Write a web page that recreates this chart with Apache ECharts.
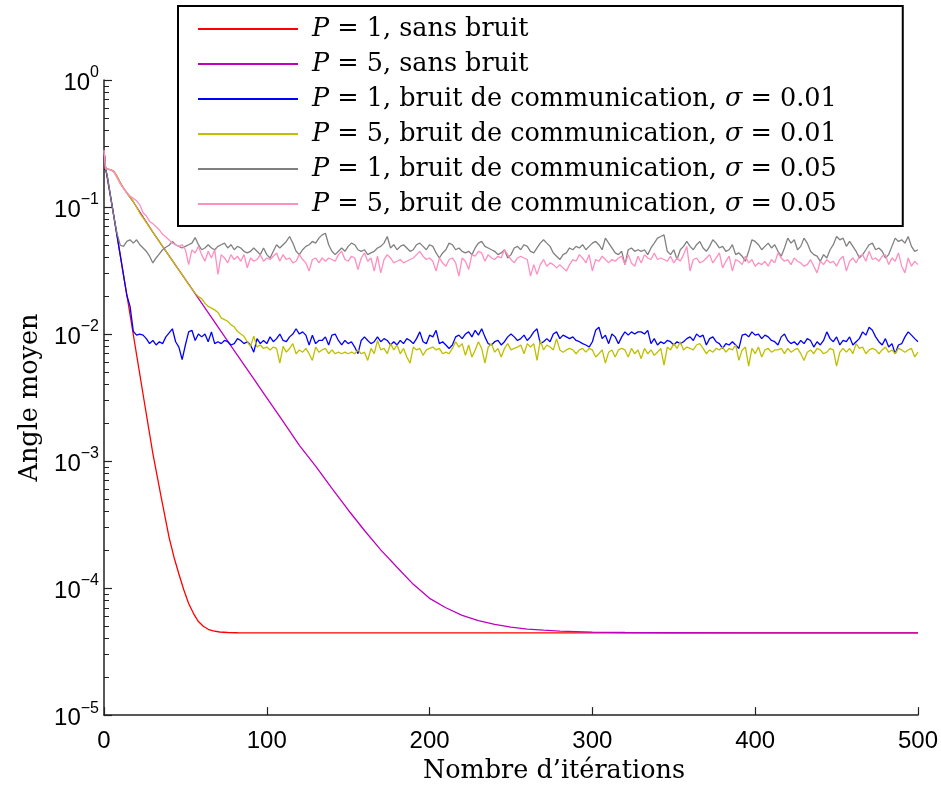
<!DOCTYPE html>
<html>
<head>
<meta charset="utf-8">
<script src="https://cdn.jsdelivr.net/npm/echarts@6/dist/echarts.min.js"></script>
<style>
html,body{margin:0;padding:0;background:#fff;}
#chart{width:941px;height:789px;}
</style>
</head>
<body>
<div id="chart"></div>
<script>
// ---------- DATA ----------
const seriesNames = [
  'P = 1, sans bruit',
  'P = 5, sans bruit',
  'P = 1, bruit de communication, σ = 0.01',
  'P = 5, bruit de communication, σ = 0.01',
  'P = 1, bruit de communication, σ = 0.05',
  'P = 5, bruit de communication, σ = 0.05'
];
const seriesColors = ['#ff0000', '#bf00bf', '#0000ff', '#bfbf00', '#808080', '#ff8fc0'];

const xTicks = [0, 100, 200, 300, 400, 500];
const yDecades = [1e-5, 1e-4, 1e-3, 1e-2, 1e-1, 1];
const yMinorTicks = [];
for (let e = -5; e <= -1; e++) for (let m = 2; m <= 9; m++) yMinorTicks.push(m * Math.pow(10, e));

// smooth curves (sampled iterations)
const redIter = [0,1,5,10,15,20,25,30,35,40,43,46,49,52,55,58,61,64,67,71,76,82,90,100,200,300,400,500];
const redVals = [0.28,0.20,0.102,0.0417,0.017,0.0069,0.0028,0.00115,0.00053,0.00025,
  0.000175,0.000129,0.000097,0.0000755,0.0000630,0.0000545,0.0000500,0.0000474,0.0000460,0.0000451,
  0.0000447,0.0000445,0.0000444,0.0000444,0.0000444,0.0000444,0.0000444,0.0000444];

const magIter = [0,1,4,6,8,10,12,14,16,18,20,30,40,50,60,70,80,90,100,110,120,130,140,150,160,170,180,190,200,210,220,230,240,250,260,270,280,300,320,350,400,450,500];
const magVals = [0.28,0.20,0.197,0.191,0.174,0.155,0.141,0.129,0.119,0.110,0.100,
  0.0634,0.0413,0.0269,0.0175,0.0114,0.00741,0.00483,0.00315,0.00205,0.00133,
  0.000913,0.000609,0.000412,0.000284,0.000200,0.000146,0.000107,0.000083,0.0000700,0.0000610,
  0.0000555,0.0000518,0.0000492,0.0000476,0.0000466,0.0000458,0.000045,0.0000447,0.0000445,0.0000444,0.0000444,0.0000444];

// noisy curves: iterations 0, 1, 2, 4, ..., 500
const noisyIter = [0, 1];
for (let i = 2; i <= 500; i += 2) noisyIter.push(i);

const blueVals = [
  0.28,0.20,0.175,0.122,0.0853,0.0596,0.0416,0.029,0.0203,0.0165,0.0105,0.0098,
  0.0100,0.0098,0.0092,0.0084,0.0089,0.0082,0.0087,0.0084,0.0095,0.0102,
  0.0110,0.0087,0.0079,0.0063,0.0082,0.0104,0.0107,0.0089,0.0100,0.0095,
  0.0100,0.0087,0.0104,0.0084,0.0087,0.0084,0.0089,0.0087,0.0082,0.0084,
  0.0092,0.0089,0.0084,0.0087,0.0082,0.0072,0.0092,0.0084,0.0089,0.0084,
  0.0095,0.0087,0.0092,0.0100,0.0089,0.0087,0.0095,0.0100,0.0110,0.0100,
  0.0104,0.0098,0.0082,0.0098,0.0084,0.0089,0.0089,0.0095,0.0082,0.0098,
  0.0100,0.0089,0.0082,0.0089,0.0084,0.0087,0.0079,0.0070,0.0089,0.0095,
  0.0089,0.0084,0.0087,
  0.0095,0.0087,0.0092,0.0089,0.0082,0.0087,0.0082,0.0089,0.0084,0.0092,
  0.0089,0.0084,0.0092,0.0104,0.0087,0.0084,0.0098,0.0095,0.0107,0.0084,
  0.0087,0.0082,0.0077,0.0082,0.0095,0.0098,0.0092,0.0100,0.0104,0.0095,
  0.0107,0.0098,0.0110,0.0095,0.0084,0.0082,0.0087,0.0089,0.0082,0.0087,
  0.0095,0.0100,0.0095,0.0089,0.0092,0.0098,0.0089,0.0095,0.0104,0.0110,
  0.0084,0.0087,0.0092,0.0087,0.0100,0.0104,0.0092,0.0098,0.0095,0.0092,
  0.0095,0.0089,0.0087,0.0084,0.0082,0.0079,0.0087,0.0107,0.0113,0.0092,
  0.0098,0.0084,0.0100,0.0095,0.0084,0.0095,0.0104,0.0098,0.0104,0.0100,
  0.0104,
  0.0104,0.0100,0.0107,0.0084,0.0092,0.0082,0.0087,0.0084,0.0089,0.0087,
  0.0082,0.0087,0.0084,0.0087,0.0092,0.0095,0.0089,0.0100,0.0095,0.0098,
  0.0082,0.0092,0.0095,0.0087,0.0084,0.0077,0.0084,0.0082,0.0087,0.0082,
  0.0077,0.0098,0.0100,0.0095,0.0104,0.0098,0.0100,0.0092,0.0098,0.0095,
  0.0089,0.0087,0.0082,0.0095,0.0100,0.0089,0.0084,0.0087,0.0082,0.0089,
  0.0084,0.0092,0.0089,0.0079,0.0087,0.0082,0.0089,0.0104,0.0092,0.0087,
  0.0095,0.0082,0.0089,0.0087,0.0095,0.0082,0.0087,0.0092,0.0104,0.0098,
  0.0113,0.0107,0.0095,0.0087,0.0082,0.0092,0.0079,0.0084,0.0070,0.0082,
  0.0084,0.0095,0.0104,0.0098,0.0092,0.0087
];

const yellowVals = [
  0.28,0.20,0.198,0.197,0.191,0.174,0.155,0.141,0.129,0.119,0.110,0.100,
  0.0893,0.0820,0.0753,0.0691,0.0634,0.0582,0.0534,0.0490,0.0450,0.0413,0.0379,0.0348,0.0319,0.0293,0.0269,
  0.0245,0.0228,0.0210,0.0197,0.0190,0.0175,0.0165,0.0160,0.0155,0.0148,
  0.0134,0.0130,0.0126,0.0118,0.0114,0.0105,0.0100,0.0096,0.0087,0.0080,
  0.0096,0.0079,0.0082,0.0077,0.0079,0.0075,0.0079,0.0077,0.0059,0.0080,
  0.0072,0.0077,0.0084,0.0070,0.0075,0.0072,0.0077,0.0070,0.0062,0.0079,
  0.0072,0.0075,0.0077,0.0070,0.0075,0.0070,0.0072,0.0070,0.0072,0.0070,
  0.0072,0.0070,0.0075,0.0070,0.0072,0.0062,0.0077,0.0070,
  0.0089,0.0075,0.0077,0.0070,0.0084,0.0075,0.0082,0.0070,0.0077,0.0066,
  0.0059,0.0079,0.0075,0.0077,0.0068,0.0075,0.0077,0.0079,0.0075,0.0077,
  0.0070,0.0072,0.0070,0.0077,0.0087,0.0079,0.0084,0.0068,0.0082,0.0066,
  0.0075,0.0087,0.0077,0.0059,0.0079,0.0084,0.0072,0.0077,0.0066,0.0077,
  0.0084,0.0075,0.0077,0.0079,0.0082,0.0070,0.0084,0.0079,0.0084,0.0062,
  0.0089,0.0075,0.0082,0.0079,0.0075,0.0092,0.0075,0.0072,0.0075,0.0077,
  0.0075,0.0070,0.0075,0.0077,0.0072,0.0077,0.0075,0.0066,0.0070,0.0075,
  0.0059,0.0072,0.0075,0.0066,0.0075,0.0077,0.0075,0.0066,0.0077,0.0070,
  0.0075,
  0.0064,0.0077,0.0070,0.0075,0.0068,0.0072,0.0077,0.0057,0.0079,0.0075,
  0.0084,0.0077,0.0087,0.0075,0.0079,0.0077,0.0075,0.0082,0.0084,0.0077,
  0.0070,0.0075,0.0072,0.0077,0.0075,0.0079,0.0072,0.0077,0.0075,0.0082,
  0.0062,0.0075,0.0079,0.0056,0.0077,0.0070,0.0079,0.0066,0.0075,0.0077,
  0.0072,0.0075,0.0075,0.0077,0.0070,0.0077,0.0072,0.0075,0.0077,0.0070,
  0.0062,0.0072,0.0075,0.0070,0.0077,0.0075,0.0070,0.0072,0.0077,0.0075,
  0.0056,0.0072,0.0077,0.0072,0.0077,0.0070,0.0084,0.0077,0.0079,0.0070,
  0.0075,0.0077,0.0075,0.0070,0.0075,0.0079,0.0072,0.0075,0.0070,0.0077,
  0.0075,0.0072,0.0075,0.0077,0.0066,0.0072
];

const grayVals = [
  0.28,0.20,0.175,0.122,0.0853,0.062,0.050,
  0.0490,0.0536,0.0552,0.0520,0.0552,0.0505,0.0476,0.0448,0.0410,0.0363,
  0.0397,0.0427,0.0461,0.0482,0.0500,0.0536,0.0505,0.0490,0.0476,0.0490,
  0.0505,0.0520,0.0575,0.0505,0.0461,0.0476,0.0505,0.0476,0.0461,0.0490,
  0.0505,0.0520,0.0476,0.0505,0.0461,0.0490,0.0476,0.0448,0.0435,0.0448,
  0.0476,0.0448,0.0422,0.0476,0.0422,0.0397,0.0448,0.0505,0.0476,0.0505,
  0.0536,0.0586,0.0520,0.0448,0.0422,0.0461,0.0490,0.0505,0.0536,0.0520,
  0.0569,0.0604,0.0622,0.0505,0.0448,0.0422,0.0448,0.0476,0.0448,0.0490,
  0.0520,0.0505,0.0461,0.0448,0.0461,0.0422,0.0435,0.0448,
  0.0476,0.0490,0.0520,0.0586,0.0476,0.0505,0.0461,0.0490,0.0505,0.0476,
  0.0448,0.0461,0.0505,0.0520,0.0490,0.0461,0.0505,0.0490,0.0435,0.0397,
  0.0435,0.0461,0.0520,0.0505,0.0461,0.0476,0.0448,0.0435,0.0448,0.0422,
  0.0476,0.0520,0.0536,0.0490,0.0476,0.0461,0.0448,0.0422,0.0435,0.0461,
  0.0397,0.0422,0.0476,0.0490,0.0461,0.0505,0.0490,0.0448,0.0435,0.0476,
  0.0520,0.0552,0.0520,0.0490,0.0435,0.0410,0.0386,0.0422,0.0435,0.0476,
  0.0461,0.0490,0.0476,0.0505,0.0461,0.0490,0.0520,0.0536,0.0505,0.0461,
  0.0569,0.0520,0.0476,0.0435,0.0422,0.0448,0.0352,0.0461,0.0476,0.0448,
  0.0461,
  0.0448,0.0461,0.0422,0.0476,0.0520,0.0569,0.0586,0.0604,0.0448,0.0422,
  0.0461,0.0386,0.0461,0.0490,0.0536,0.0490,0.0461,0.0505,0.0536,0.0476,
  0.0448,0.0490,0.0552,0.0520,0.0476,0.0490,0.0448,0.0461,0.0505,0.0422,
  0.0435,0.0410,0.0374,0.0448,0.0552,0.0536,0.0505,0.0461,0.0490,0.0520,
  0.0476,0.0505,0.0448,0.0410,0.0476,0.0569,0.0520,0.0552,0.0461,0.0490,
  0.0569,0.0520,0.0448,0.0422,0.0410,0.0374,0.0422,0.0397,0.0461,0.0505,
  0.0586,0.0552,0.0569,0.0490,0.0536,0.0490,0.0448,0.0397,0.0422,0.0461,
  0.0505,0.0520,0.0461,0.0476,0.0448,0.0397,0.0422,0.0490,0.0569,0.0536,
  0.0552,0.0520,0.0586,0.0490,0.0448,0.0461
];

const pinkVals = [
  0.28,0.20,0.198,0.196,0.190,0.170,0.152,0.140,0.130,0.122,0.117,0.112,0.104,0.090,
  0.085,0.077,0.074,0.070,0.066,0.061,0.058,0.055,0.052,0.0505,0.049,0.0505,0.0461,
  0.0352,0.046,0.0435,0.049,0.042,0.0374,0.0448,0.0397,0.0461,0.0295,0.0422,0.0397,0.0363,
  0.0422,0.0386,0.0410,0.0374,0.0422,0.0332,0.0397,0.0374,0.0386,0.0422,
  0.0374,0.0397,0.0386,0.0410,0.0435,0.0374,0.0422,0.0386,0.0397,0.0363,
  0.0374,0.0422,0.0386,0.0363,0.0313,0.0386,0.0397,0.0363,0.0397,0.0374,
  0.0397,0.0386,0.0374,0.0422,0.0448,0.0386,0.0374,0.0410,0.0397,0.0322,
  0.0397,0.0435,0.0374,0.0397,0.0313,
  0.0410,0.0303,0.0386,0.0422,0.0397,0.0363,0.0374,0.0386,0.0363,0.0374,
  0.0386,0.0397,0.0422,0.0448,0.0410,0.0386,0.0397,0.0374,0.0313,0.0397,
  0.0363,0.0342,0.0386,0.0397,0.0363,0.0286,0.0397,0.0374,0.0322,0.0422,
  0.0410,0.0448,0.0435,0.0374,0.0422,0.0397,0.0386,0.0410,0.0397,0.0461,
  0.0422,0.0386,0.0363,0.0397,0.0410,0.0397,0.0386,0.0286,0.0352,0.0295,
  0.0352,0.0386,0.0342,0.0363,0.0352,0.0332,0.0352,0.0332,0.0313,0.0352,
  0.0386,0.0374,0.0422,0.0397,0.0363,0.0422,0.0313,0.0386,0.0374,0.0410,
  0.0386,0.0363,0.0386,0.0374,0.0397,0.0410,0.0352,0.0422,0.0363,0.0342,
  0.0410,
  0.0363,0.0422,0.0397,0.0386,0.0435,0.0386,0.0397,0.0386,0.0374,0.0410,
  0.0363,0.0397,0.0374,0.0422,0.0490,0.0313,0.0386,0.0397,0.0363,0.0374,
  0.0397,0.0422,0.0363,0.0397,0.0435,0.0332,0.0374,0.0410,0.0313,0.0386,
  0.0374,0.0352,0.0410,0.0363,0.0386,0.0342,0.0363,0.0352,0.0374,0.0342,
  0.0386,0.0363,0.0435,0.0397,0.0374,0.0386,0.0352,0.0397,0.0374,0.0363,
  0.0342,0.0352,0.0386,0.0342,0.0303,0.0374,0.0352,0.0386,0.0363,0.0374,
  0.0342,0.0386,0.0410,0.0313,0.0374,0.0397,0.0363,0.0410,0.0422,0.0374,
  0.0448,0.0386,0.0397,0.0374,0.0410,0.0422,0.0352,0.0397,0.0374,0.0435,
  0.0342,0.0303,0.0397,0.0342,0.0374,0.0352
];

// ---------- CHART ----------
function pairs(xs, ys) { return xs.map((x, i) => [x, ys[i]]); }

const seriesData = [
  pairs(redIter, redVals),
  pairs(magIter, magVals),
  pairs(noisyIter, blueVals),
  pairs(noisyIter, yellowVals),
  pairs(noisyIter, grayVals),
  pairs(noisyIter, pinkVals)
];

const chart = echarts.init(document.getElementById('chart'), null, {renderer: 'canvas'});
const axisColor = '#222';
const serif = 'DejaVu Serif';
const sans = 'Liberation Sans';

const option = {
  animation: false,
  backgroundColor: '#fff',
  grid: {left: 104, right: 23, top: 80, bottom: 66, containLabel: false},
  legend: {
    orient: 'vertical',
    left: 178,
    top: 6,
    padding: [10, 66, 9, 20],
    itemGap: 9,
    itemWidth: 100,
    itemHeight: 2,
    icon: 'rect',
    backgroundColor: '#fff',
    borderColor: '#000',
    borderWidth: 2,
    borderRadius: 0,
    selectedMode: false,
    data: seriesNames,
    formatter: (name) => name.replace(/^P/, '{i|P}').replace('σ', '{i|σ}'),
    textStyle: {
      fontFamily: serif, fontSize: 25.5, color: '#000', lineHeight: 26,
      padding: [0, 0, 0, 9],
      rich: {i: {fontFamily: serif, fontStyle: 'italic', fontSize: 25.5, color: '#000', lineHeight: 26}}
    }
  },
  xAxis: {
    type: 'value', min: 0, max: 500, interval: 100,
    name: "Nombre d’itérations",
    nameLocation: 'middle', nameGap: 35,
    nameTextStyle: {fontFamily: serif, fontSize: 25.5, color: '#000', padding: [0, 0, 0, 86]},
    axisLine: {show: true, onZero: false, lineStyle: {color: axisColor, width: 1.5}},
    axisTick: {show: true, inside: true, length: 8, lineStyle: {color: axisColor, width: 1.2}},
    axisLabel: {fontFamily: sans, fontSize: 24, color: '#000', margin: 14,
      formatter: (v) => xTicks.indexOf(v) >= 0 ? String(v) : ''},
    splitLine: {show: false}
  },
  yAxis: [
    {
      type: 'log', logBase: 10, min: yDecades[0], max: yDecades[yDecades.length - 1],
      name: 'Angle moyen',
      nameLocation: 'middle', nameGap: 58, nameRotate: 90,
      nameTextStyle: {fontFamily: serif, fontSize: 25.5, color: '#000'},
      axisLine: {show: true, onZero: false, lineStyle: {color: axisColor, width: 1.5}},
      axisTick: {show: true, inside: true, length: 8, lineStyle: {color: axisColor, width: 1.2}},
      axisLabel: {
        margin: 5,
        formatter: (v) => {
          const e = Math.round(Math.log10(v));
          return '{b|10}{e|' + (e < 0 ? '\u2212' + (-e) : String(e)) + '}';
        },
        rich: {
          b: {fontFamily: sans, fontSize: 24, color: '#000', lineHeight: 30, verticalAlign: 'bottom'},
          e: {fontFamily: sans, fontSize: 16, color: '#000', lineHeight: 16, verticalAlign: 'top'}
        }
      },
      splitLine: {show: false},
      minorTick: {show: false}
    },
    {
      type: 'log', logBase: 10, min: yDecades[0], max: yDecades[yDecades.length - 1],
      position: 'left', offset: 0,
      axisLine: {show: false},
      axisLabel: {show: false},
      splitLine: {show: false},
      axisTick: {show: true, inside: true, length: 5, customValues: yMinorTicks,
        lineStyle: {color: axisColor, width: 1}}
    }
  ],
  series: seriesNames.map((name, i) => ({
    name: name,
    type: 'line',
    yAxisIndex: 0,
    data: seriesData[i],
    showSymbol: false,
    symbol: 'none',
    smooth: false,
    clip: true,
    z: 2 + i,
    lineStyle: {color: seriesColors[i], width: 1.3},
    itemStyle: {color: seriesColors[i]}
  }))
};
chart.setOption(option);
</script>
</body>
</html>
